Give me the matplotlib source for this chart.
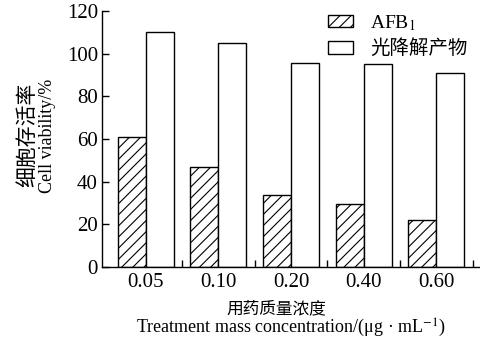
import matplotlib
matplotlib.use("Agg")
import matplotlib.pyplot as plt
import numpy as np

plt.rcParams['font.family'] = ['Liberation Serif', 'Noto Sans CJK SC']
plt.rcParams['mathtext.fontset'] = 'stix'
plt.rcParams['hatch.linewidth'] = 0.8

categories = ['0.05', '0.10', '0.20', '0.40', '0.60']
afb1 = [60.8, 47.0, 33.6, 29.5, 22.2]
photo = [110.3, 104.9, 95.7, 95.2, 91.1]
yticks = [0, 20, 40, 60, 80, 100, 120]

W, H = 481, 338
fig = plt.figure(figsize=(W / 100, H / 100), dpi=100)
ax = fig.add_axes([102 / W, 1 - 267 / H, (480 - 102) / W, (267 - 11) / H])

x = np.arange(len(categories))
w = 0.385
ax.bar(x - w / 2, afb1, width=w, facecolor='white', edgecolor='black',
       linewidth=1.0, hatch='///', label='AFB$_1$')
ax.bar(x + w / 2, photo, width=w, facecolor='white', edgecolor='black',
       linewidth=1.0, label='光降解产物')

ax.set_xlim(-0.6, 4.6)
ax.set_ylim(0, 120)
ax.set_yticks(yticks)
ax.set_yticklabels([str(v) for v in yticks], fontsize=15)
ax.set_xticks(x)
ax.set_xticklabels(categories, fontsize=15)
ax.set_xticks(list(x + 0.5), minor=True)
ax.tick_params(axis='x', which='major', length=0, pad=4)
ax.tick_params(axis='x', which='minor', direction='in', length=5, width=1)
ax.tick_params(axis='y', which='major', direction='in', length=5, width=1, pad=3)
for s in ['top', 'right']:
    ax.spines[s].set_visible(False)
for s in ['left', 'bottom']:
    ax.spines[s].set_linewidth(1.0)

leg = ax.legend(loc='upper left', bbox_to_anchor=(328 / W, 1 - 13 / H),
                bbox_transform=fig.transFigure, frameon=False, fontsize=14,
                borderpad=0, borderaxespad=0, handlelength=1.3, handleheight=0.62,
                handletextpad=0.85, labelspacing=0.35)

fig.text(28 / W, 1 - 135 / H, '细胞存活率', rotation=90, ha='center', va='center', fontsize=15)
fig.text(48 / W, 1 - 136 / H, 'Cell viability/%', rotation=90, ha='center', va='center', fontsize=13)
fig.text(276 / W, 1 - 309 / H, '用药质量浓度', ha='center', va='center', fontsize=12)
fig.text(291 / W, 1 - 333 / H, 'Treatment mass concentration/(μg · mL$^{-1}$)',
         ha='center', va='baseline', fontsize=13)

fig.savefig('out.png', dpi=100)
